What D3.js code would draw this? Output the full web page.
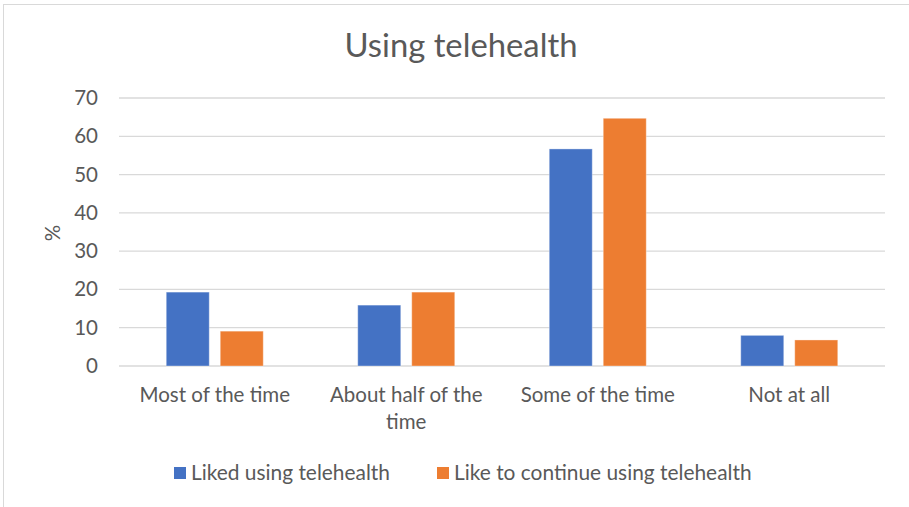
<!DOCTYPE html>
<html>
<head>
<meta charset="utf-8">
<script src="https://cdn.jsdelivr.net/npm/d3@7"></script>
<style>
  html, body { margin: 0; padding: 0; background: #fff; }
  svg { display: block; }
  text { font-family: Lato, "Open Sans", sans-serif; fill: #595959; }
</style>
</head>
<body>
<svg id="chart" width="909" height="507"></svg>
<script>
// Survey responses (%)
const categories = ["Most of the time", "About half of the time", "Some of the time", "Not at all"];
const seriesNames = ["Liked using telehealth", "Like to continue using telehealth"];
const likedValues = [19.3, 15.9, 56.7, 8.0];
const continueValues = [9.1, 19.3, 64.7, 6.8];
const yTicks = [0, 10, 20, 30, 40, 50, 60, 70];
const colors = ["#4472C4", "#ED7D31"];

const seriesValues = [likedValues, continueValues];
const rows = categories.map((c, i) => ({
  category: c,
  values: seriesNames.map((s, k) => ({ series: s, value: seriesValues[k][i], k }))
}));

const svg = d3.select("#chart");
const W = 909, H = 507;
const margin = { left: 119, right: W - 885, top: 98, bottom: H - 366 };
const labelSize = 20.5;

// chart frame
svg.append("rect")
  .attr("x", 3.5).attr("y", 4.5)
  .attr("width", W + 10).attr("height", H + 10)
  .attr("fill", "#fff").attr("stroke", "#d9d9d9").attr("stroke-width", 1);

const x0 = d3.scaleBand().domain(categories)
  .range([margin.left, W - margin.right]).padding(0);
const x1 = d3.scaleBand().domain(seriesNames)
  .range([0, x0.bandwidth()]).paddingInner(0.2037).paddingOuter(0.875);
const y = d3.scaleLinear().domain([0, 70]).range([H - margin.bottom, margin.top]);

// gridlines
svg.append("g").selectAll("line").data(yTicks).join("line")
  .attr("x1", margin.left).attr("x2", W - margin.right)
  .attr("y1", d => y(d)).attr("y2", d => y(d))
  .attr("stroke", "#d9d9d9").attr("stroke-width", 1.3);

// y tick labels
const yAxis = d3.axisLeft(y).tickValues(yTicks).tickSize(0).tickPadding(0);
const gy = svg.append("g").attr("transform", `translate(${margin.left - 21},0)`).call(yAxis);
gy.select(".domain").remove();
gy.selectAll("text").attr("font-size", labelSize).attr("fill", "#595959")
  .style("font-family", "Lato, 'Open Sans', sans-serif");

// y axis title
svg.append("text")
  .attr("transform", "translate(60,233) rotate(-90)")
  .attr("text-anchor", "middle")
  .attr("font-size", labelSize)
  .text("%");

// bars
const groups = svg.append("g").selectAll("g").data(rows).join("g")
  .attr("transform", d => `translate(${x0(d.category)},0)`);
groups.selectAll("rect").data(d => d.values).join("rect")
  .attr("x", d => x1(d.series))
  .attr("width", x1.bandwidth())
  .attr("y", d => y(d.value))
  .attr("height", d => y(0) - y(d.value))
  .attr("fill", d => colors[d.k])
  .attr("stroke", "#fff").attr("stroke-opacity", 0.35).attr("stroke-width", 1);

// category labels (wrapped)
const wrapWidth = 172;
const catLabels = svg.append("g").selectAll("text").data(categories).join("text")
  .attr("text-anchor", "middle")
  .attr("font-size", labelSize)
  .attr("x", d => x0(d) + x0.bandwidth() / 2)
  .attr("y", 402);
catLabels.each(function (d) {
  const t = d3.select(this);
  const words = d.split(" ");
  let line = [];
  let tspan = t.append("tspan").attr("x", t.attr("x")).attr("dy", 0);
  words.forEach(w => {
    line.push(w);
    tspan.text(line.join(" "));
    if (tspan.node().getComputedTextLength() > wrapWidth && line.length > 1) {
      line.pop();
      tspan.text(line.join(" "));
      line = [w];
      tspan = t.append("tspan").attr("x", t.attr("x")).attr("dy", 27).text(w);
    }
  });
});

// title
svg.append("text")
  .attr("x", 461).attr("y", 57)
  .attr("text-anchor", "middle")
  .attr("font-size", 32.8)
  .text("Using telehealth");

// legend
const legendItems = [
  { name: seriesNames[0], color: colors[0], x: 174 },
  { name: seriesNames[1], color: colors[1], x: 437 }
];
const lg = svg.append("g").selectAll("g").data(legendItems).join("g")
  .attr("transform", d => `translate(${d.x},467)`);
lg.append("rect").attr("width", 12).attr("height", 12).attr("fill", d => d.color);
lg.append("text").attr("x", 17).attr("y", 13)
  .attr("font-size", 20.9).text(d => d.name);
</script>
</body>
</html>
